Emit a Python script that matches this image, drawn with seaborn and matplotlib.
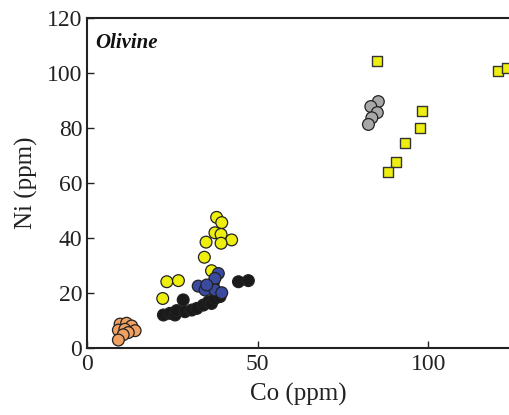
import pandas as pd
import numpy as np
import matplotlib
matplotlib.use('Agg')
import matplotlib.pyplot as plt
import seaborn as sns

# values (Co, Ni in ppm)
orange_co = [9.7, 11.6, 13.1, 14.1, 9.2, 11.1, 12.1, 10.6, 9.2]
orange_ni = [8.7, 9.0, 8.0, 6.3, 6.5, 6.8, 5.6, 4.8, 2.9]

black_co = [22.4, 24.3, 25.8, 26.3, 28.2, 28.7, 30.7, 32.2, 34.1, 35.6, 36.5, 37.5, 39.0, 44.4, 47.3]
black_ni = [12.0, 12.6, 12.0, 13.6, 17.5, 13.2, 13.8, 14.4, 15.6, 16.8, 16.2, 18.0, 18.7, 24.1, 24.5]

yellow_co = [38.0, 39.5, 37.5, 39.3, 42.4, 39.3, 34.9, 34.4, 36.5, 23.4, 26.8, 22.2]
yellow_ni = [47.5, 45.6, 41.9, 41.3, 39.3, 38.1, 38.5, 33.0, 28.1, 24.1, 24.5, 18.0]

blue_co = [32.6, 34.6, 37.0, 38.5, 37.5, 37.5, 39.5, 35.1]
blue_ni = [22.5, 21.1, 23.5, 27.1, 25.3, 21.1, 20.1, 22.9]

gray_co = [85.4, 83.2, 85.1, 83.5, 82.5]
gray_ni = [89.6, 87.8, 85.6, 83.7, 81.3]

square_co = [85.1, 98.3, 97.7, 93.1, 90.5, 88.1, 120.6, 123.1]
square_ni = [104.5, 86.3, 80.1, 74.4, 67.5, 64.1, 100.8, 101.7]

groups = {
    'orange': (orange_co, orange_ni),
    'yellow': (yellow_co, yellow_ni),
    'black': (black_co, black_ni),
    'blue': (blue_co, blue_ni),
    'gray': (gray_co, gray_ni),
    'square': (square_co, square_ni),
}
dfs = []
for name, (co, ni) in groups.items():
    dfs.append(pd.DataFrame({'Co': co, 'Ni': ni, 'group': name}))
df = pd.concat(dfs, ignore_index=True)

palette = {'orange': '#F0A060', 'black': '#1A1A1A', 'yellow': '#EEEE10',
           'blue': '#3A4AA0', 'gray': '#A8A8A8', 'square': '#EEEE10'}

sns.set_style('ticks')
plt.rcParams['font.family'] = ['Liberation Serif', 'DejaVu Serif']

fig = plt.figure(figsize=(5.1, 4.15), dpi=100)
ax = fig.add_axes([87 / 510, 67 / 415, 423 / 510, 330 / 415])

circles = df[df['group'] != 'square']
sns.scatterplot(data=circles, x='Co', y='Ni', hue='group', palette=palette,
                s=72, edgecolor='#222222', linewidth=0.9, legend=False, ax=ax)
squares = df[df['group'] == 'square']
sns.scatterplot(data=squares, x='Co', y='Ni', color=palette['square'], marker='s',
                s=56, edgecolor='#333333', linewidth=1.0, legend=False, ax=ax)

ax.set_xlim(0, 124)
ax.set_ylim(0, 120)
ax.set_xticks([0, 50, 100])
ax.set_yticks(np.arange(0, 121, 20))
ax.tick_params(direction='in', length=5, width=1, labelsize=17, colors='#222222')
ax.tick_params(axis='x', pad=4)
for side in ['left', 'bottom', 'top']:
    ax.spines[side].set_linewidth(1.5)
    ax.spines[side].set_color('#222222')
ax.spines['right'].set_visible(False)

ax.set_xlabel('Co (ppm)', fontsize=18, color='#222222', labelpad=6)
ax.set_ylabel('Ni (ppm)', fontsize=18, color='#222222', labelpad=6)
ax.text(0.02, 0.955, 'Olivine', transform=ax.transAxes, fontsize=15,
        fontweight='bold', fontstyle='italic', va='top', ha='left', color='#111111')

fig.savefig('out.png', dpi=100)
